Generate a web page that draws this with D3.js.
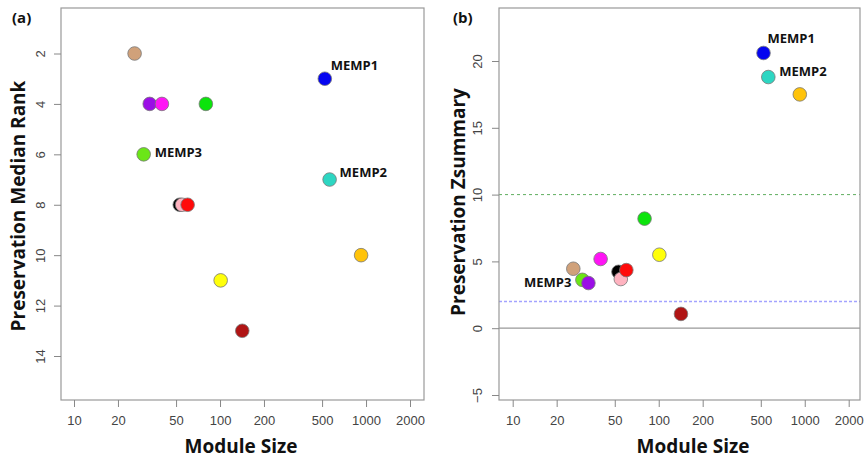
<!DOCTYPE html>
<html>
<head>
<meta charset="utf-8">
<script src="https://cdn.jsdelivr.net/npm/d3@7"></script>
<style>
  body { margin: 0; background: #fff; }
  svg { display: block; }
</style>
</head>
<body>
<svg id="chart" width="866" height="460"></svg>
<script>
// modules, drawn in this order (later ones on top)
const modules  = ["tan", "MEMP3", "purple", "magenta", "black", "pink", "red", "green", "yellow", "darkred", "MEMP1", "MEMP2", "orange"];
const colors   = ["#d0a17a", "#6be617", "#9b0ee6", "#ff14f5", "#000000", "#ffb3c0", "#ff0a0a", "#0ce40c", "#ffff0a", "#b01515", "#0505f0", "#2dd6c2", "#ffc30a"];
const modSize  = [26, 30, 33, 40, 53, 55, 60, 80, 101, 142, 522, 563, 925];
const medRank  = [2, 6, 4, 4, 8, 8, 8, 4, 11, 13, 3, 7, 10];
const zSummary = [4.45, 3.62, 3.38, 5.18, 4.22, 3.68, 4.35, 8.2, 5.5, 1.07, 20.6, 18.8, 17.5];

const xTicks    = [10, 20, 50, 100, 200, 500, 1000, 2000];
const rankTicks = [2, 4, 6, 8, 10, 12, 14];
const zTicks    = [-5, 0, 5, 10, 15, 20];

const svg = d3.select("#chart");
const tickFont = "'Liberation Sans', Arial, sans-serif";
const boldFont = "'Open Sans', 'Noto Sans', sans-serif";

function drawPanel(p) {
  const g = svg.append("g");
  const x = d3.scaleLog().domain([10, 2000]).range(p.xRange);
  const y = d3.scaleLinear().domain(p.yDomain).range(p.yRange);

  // reference lines
  (p.hlines || []).forEach(h => {
    g.append("line")
      .attr("x1", p.box[0]).attr("x2", p.box[1])
      .attr("y1", y(h.v)).attr("y2", y(h.v))
      .attr("stroke", h.color).attr("stroke-width", h.w || 1)
      .attr("stroke-dasharray", h.dash || null);
  });

  // box
  g.append("rect")
    .attr("x", p.box[0]).attr("y", p.box[2])
    .attr("width", p.box[1] - p.box[0]).attr("height", p.box[3] - p.box[2])
    .attr("fill", "none").attr("stroke", "#999").attr("stroke-width", 1.2);

  // x axis
  const xa = g.append("g")
    .attr("transform", `translate(0,${p.box[3]})`)
    .call(d3.axisBottom(x).tickValues(xTicks).tickFormat(d3.format("d")).tickSize(7).tickPadding(9));
  xa.select(".domain").remove();
  xa.selectAll("line").attr("stroke", "#888");
  xa.selectAll("text").attr("font-family", tickFont).attr("font-size", 13).attr("fill", "#444");

  // y axis, labels rotated like R
  const ya = g.append("g")
    .attr("transform", `translate(${p.box[0]},0)`)
    .call(d3.axisLeft(y).tickValues(p.yTicks).tickSize(7).tickFormat(d3.format("d")));
  ya.select(".domain").remove();
  ya.selectAll("line").attr("stroke", "#888");
  ya.selectAll("text")
    .attr("font-family", tickFont).attr("font-size", 13).attr("fill", "#444")
    .attr("x", null).attr("dy", null)
    .attr("text-anchor", "middle")
    .attr("transform", `translate(${p.yLabelX - p.box[0]},0) rotate(-90)`);

  // points
  const idx = d3.range(modules.length);
  g.selectAll("circle.pt").data(idx).enter().append("circle")
    .attr("class", "pt")
    .attr("cx", i => x(modSize[i]))
    .attr("cy", i => y(p.values[i]))
    .attr("r", 6.8)
    .attr("fill", i => colors[i])
    .attr("stroke", "#777").attr("stroke-width", 0.8);

  // MEMP labels
  p.labels.forEach(l => {
    const i = modules.indexOf(l.name);
    g.append("text")
      .attr("x", x(modSize[i]) + l.dx)
      .attr("y", y(p.values[i]) + l.dy)
      .attr("text-anchor", l.anchor || "start")
      .attr("font-family", boldFont).attr("font-weight", "bold")
      .attr("font-size", 13).attr("fill", "#111")
      .text(l.name);
  });

  // titles
  g.append("text")
    .attr("x", p.xTitleX).attr("y", 453)
    .attr("text-anchor", "middle")
    .attr("font-family", boldFont).attr("font-weight", "bold").attr("font-size", 19)
    .attr("fill", "#111")
    .text("Module Size");

  g.append("text")
    .attr("transform", `translate(${p.yTitleX},${p.yTitleY}) rotate(-90)`)
    .attr("text-anchor", "middle")
    .attr("font-family", boldFont).attr("font-weight", "bold").attr("font-size", 19)
    .attr("fill", "#111")
    .text(p.yTitle);

  g.append("text")
    .attr("x", p.tagX).attr("y", 23)
    .attr("font-family", boldFont).attr("font-weight", "bold").attr("font-size", 15)
    .attr("fill", "#111")
    .text(p.tag);
}

drawPanel({
  tag: "(a)", tagX: 12,
  box: [61, 424, 8, 400],
  xRange: [74, 410],
  yDomain: [2, 14], yRange: [53.5, 356],
  yTicks: rankTicks,
  yLabelX: 45,
  values: medRank,
  yTitle: "Preservation Median Rank", yTitleX: 25, yTitleY: 206,
  xTitleX: 241,
  labels: [
    { name: "MEMP1", dx: 6, dy: -9 },
    { name: "MEMP2", dx: 10, dy: -3 },
    { name: "MEMP3", dx: 11, dy: 3 }
  ]
});

drawPanel({
  tag: "(b)", tagX: 453,
  box: [499, 860, 8, 400],
  xRange: [512.7, 848.7],
  yDomain: [-5, 20], yRange: [395, 61],
  yTicks: zTicks,
  yLabelX: 482,
  values: zSummary,
  yTitle: "Preservation Zsummary", yTitleX: 465, yTitleY: 202,
  xTitleX: 693,
  hlines: [
    { v: 0, color: "#999", w: 1.2 },
    { v: 10, color: "#5fae5f", dash: "3,3" },
    { v: 2, color: "#a3a3ff", w: 1.5, dash: "3,2" }
  ],
  labels: [
    { name: "MEMP1", dx: 4, dy: -10 },
    { name: "MEMP2", dx: 11, dy: -1 },
    { name: "MEMP3", dx: -11, dy: 7, anchor: "end" }
  ]
});
</script>
</body>
</html>
